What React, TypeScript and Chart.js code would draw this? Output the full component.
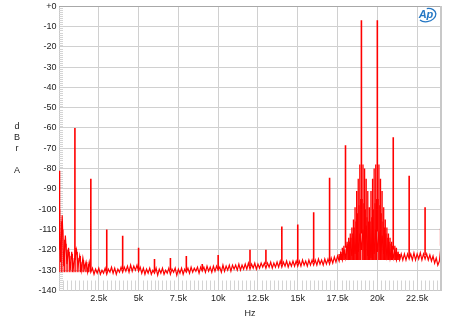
import { useEffect, useRef } from 'react';
import { Chart, registerables } from 'chart.js';

Chart.register(...registerables);

// ---------- data ----------
const noiseStepHz = 100;
const noiseDb = [
  -97, -126, -103, -128, -113, -127, -119, -130, -121, -129,
  -124, -120, -128, -123, -130, -124, -129, -126, -131, -126,
  -131, -129, -132, -129.5, -131.5, -129, -132, -130, -131.5, -129,
  -132, -129.5, -131, -128.5, -131.5, -129, -132, -129.5, -131, -128.5,
  -131, -128.5, -130.5, -128, -131, -127.5, -130.5, -128, -130, -127.5,
  -130.5, -128.5, -131.5, -129, -132, -129.5, -131.5, -129, -132, -130,
  -131.5, -129, -132.5, -129.5, -131.5, -129, -132, -130, -131.5, -129,
  -132, -129.5, -131, -129, -132.5, -129.5, -131.5, -129, -132, -129.5,
  -131, -129, -131.5, -128.5, -131, -129, -130.5, -128.5, -131.5, -128.5,
  -130.5, -128.5, -131, -128, -130.5, -128.5, -131, -128, -130.5, -128,
  -130, -128.5, -131, -127.5, -130.5, -128, -130, -127.5, -130.5, -127.5,
  -129.5, -127.5, -130, -127, -130, -127.5, -129.5, -127, -129.5, -126.5,
  -129.5, -127, -129, -126.5, -129.5, -127, -129, -126.5, -128.5, -126.5,
  -129, -126.5, -128.5, -126, -129, -126.5, -128.5, -126, -128.5, -125.5,
  -128.5, -126, -128, -125.5, -128.5, -126, -128, -125.5, -128, -125.5,
  -128, -125.5, -128, -125, -127.5, -125.5, -128, -125, -127.5, -125,
  -127.5, -125, -127.5, -124.5, -127, -125, -127.5, -124.5, -127, -124.5,
  -127, -124, -126.5, -123.5, -126, -123, -125.5, -121.5, -125, -120,
  -124, -118, -123, -116, -123, -113, -122, -111, -121, -112,
  -120, -110, -122, -108, -123, -107, -124, -108, -122, -110,
  -121, -111, -122, -113, -122, -115, -123, -117, -124, -119,
  -124, -120, -125, -121.5, -125, -122, -125, -122, -125, -122,
  -124.5, -122, -125, -121.5, -125, -122, -124.5, -121.5, -125, -122,
  -124.5, -122, -125, -122.5, -125.5, -123, -126.5, -124, -127.5, -125.5,
  -118,
];

// discrete tones: IMD products and harmonics
const spikeHz = [30, 1000, 2000, 3000, 4000, 5000, 6000, 7000, 8000, 9000, 10000, 12000, 13000, 14000, 15000, 16000, 17000, 18000, 19000, 20000, 21000, 22000, 23000, 23980];
const spikeTopDb = [-81, -60, -85, -110, -113, -119, -124.5, -124, -123, -127, -122.5, -120, -120, -108.5, -107.5, -101.5, -84.5, -68.5, -7, -7, -64.5, -83.5, -99, -109.5];
const spikeBaseDb = [-120, -125, -130, -130.5, -129.5, -129.5, -130.5, -130, -130, -129.5, -129.5, -128, -127, -127, -126.5, -126, -125.5, -119, -112, -111, -120, -123.5, -122.5, -118];

// low-frequency spurs below 2 kHz
const lowSpurHz = [50, 150, 250, 350, 450, 550, 650, 750, 850, 950, 1050, 1150, 1250, 1350, 1450, 1550, 1650, 1750, 1850, 1950];
const lowSpurDb = [-100, -106, -110, -115, -117, -120, -121, -123, -122, -124, -119, -121, -124, -123, -126, -125, -127, -126, -127, -128];
const lowSpurBaseDb = -131;

// sidebands around the 19 kHz / 20 kHz tones
const skirtHz = [17600, 17700, 17800, 17900, 18100, 18200, 18300, 18400, 18500, 18600, 18700, 18800, 18900, 19100, 19200, 19300, 19400, 19500, 19600, 19700, 19800, 19900, 20100, 20200, 20300, 20400, 20500, 20600, 20700, 20800, 20900, 21100, 21200, 21300, 21400];
const skirtTopDb = [-122, -121, -119, -118, -116, -114, -112, -109, -105, -99, -91, -85, -78, -78, -80, -85, -91, -99, -91, -85, -80, -78, -78, -85, -91, -99, -105, -109, -112, -114, -116, -118, -119, -121, -122];
const skirtMidHz = [17650, 17750, 17850, 17950, 18050, 18150, 18250, 18350, 18450, 18550, 18650, 18750, 18850, 18950, 19050, 19150, 19250, 19350, 19450, 19550, 19650, 19750, 19850, 19950, 20050, 20150, 20250, 20350, 20450, 20550, 20650, 20750, 20850, 20950, 21050, 21150, 21250, 21350];
const skirtMidDb = [-123, -122, -121, -120, -118, -117, -116, -114, -112, -109, -106, -102, -98, -95, -95, -97, -100, -104, -106, -106, -104, -100, -97, -95, -95, -98, -102, -106, -109, -112, -114, -116, -117, -118, -120, -121, -122, -123];
const skirtBaseDb = -125;

const xTickValues = [0, 2500, 5000, 7500, 10000, 12500, 15000, 17500, 20000, 22500];
const xTickLabels = ['', '2.5k', '5k', '7.5k', '10k', '12.5k', '15k', '17.5k', '20k', '22.5k'];
const yTitleLines = ['d', 'B', 'r', '', 'A'];

// ---------- helpers ----------
function segments(xs: number[], tops: number[], bases: number[] | number) {
  const out: { x: number; y: number | null }[] = [];
  xs.forEach((x, i) => {
    const b = Array.isArray(bases) ? bases[i] : bases;
    out.push({ x, y: b }, { x, y: tops[i] }, { x, y: null });
  });
  return out;
}

const FONT = '"Liberation Sans", Arial, sans-serif';

const decorPlugin = {
  id: 'decor',
  beforeDatasetsDraw(chart: any) {
    const { ctx, chartArea: a, scales } = chart;
    ctx.save();
    ctx.strokeStyle = '#d4d4d4';
    ctx.lineWidth = 1;
    ctx.beginPath();
    for (let d = -139; d < 0; d++) {
      if (d % 10 === 0) continue;
      const y = Math.round(scales.y.getPixelForValue(d)) + 0.5;
      ctx.moveTo(a.left, y);
      ctx.lineTo(a.left + 4, y);
    }
    for (let f = 250; f < 24000; f += 250) {
      if (f % 2500 === 0) continue;
      const x = Math.round(scales.x.getPixelForValue(f)) + 0.5;
      ctx.moveTo(x, a.bottom);
      ctx.lineTo(x, a.bottom - 10);
    }
    ctx.stroke();
    ctx.restore();
  },
  afterDraw(chart: any) {
    const { ctx, chartArea: a } = chart;
    ctx.save();
    ctx.strokeStyle = '#a8a8a8';
    ctx.lineWidth = 1;
    ctx.beginPath();
    ctx.moveTo(a.left, Math.round(a.top) + 0.5);
    ctx.lineTo(a.right, Math.round(a.top) + 0.5);
    ctx.stroke();
    ctx.strokeStyle = '#c8c8c8';
    ctx.lineWidth = 2;
    ctx.beginPath();
    ctx.moveTo(a.right, a.top);
    ctx.lineTo(a.right, a.bottom);
    ctx.stroke();
    // y title
    ctx.fillStyle = '#222';
    ctx.font = `9px ${FONT}`;
    ctx.textAlign = 'center';
    ctx.textBaseline = 'middle';
    const cy = (a.top + a.bottom) / 2;
    const lh = 11;
    yTitleLines.forEach((t, i) => {
      ctx.fillText(t, 17, cy + (i - (yTitleLines.length - 1) / 2) * lh);
    });
    // logo
    const lx = a.right - 14;
    const ly = a.top + 9;
    ctx.fillStyle = '#2477c4';
    ctx.font = `italic bold 11px ${FONT}`;
    ctx.fillText('Ap', lx - 1, ly);
    ctx.strokeStyle = '#2477c4';
    ctx.lineWidth = 1.3;
    ctx.beginPath();
    ctx.ellipse(lx, ly, 9, 6.5, -0.25, -Math.PI * 0.45, Math.PI * 0.85);
    ctx.stroke();
    ctx.restore();
  },
};

export default function App() {
  const ref = useRef<HTMLCanvasElement | null>(null);
  useEffect(() => {
    document.body.style.margin = '0';
    const canvas = ref.current;
    if (!canvas) return;
    const red = '#ff0000';
    const chart = new Chart(canvas, {
      type: 'line',
      data: {
        datasets: [
          {
            data: segments(skirtMidHz, skirtMidDb, skirtBaseDb),
            borderColor: red,
            borderWidth: 1.1,
            pointRadius: 0,
            spanGaps: false,
          },
          {
            data: segments(skirtHz, skirtTopDb, skirtBaseDb),
            borderColor: red,
            borderWidth: 1.3,
            pointRadius: 0,
            spanGaps: false,
          },
          {
            data: segments(lowSpurHz, lowSpurDb, lowSpurBaseDb),
            borderColor: red,
            borderWidth: 1,
            pointRadius: 0,
            spanGaps: false,
          },
          {
            data: noiseDb.map((v, i) => ({ x: i * noiseStepHz, y: v })),
            borderColor: red,
            borderWidth: 1.2,
            pointRadius: 0,
          },
          {
            data: segments(spikeHz, spikeTopDb, spikeBaseDb),
            borderColor: red,
            borderWidth: 1.6,
            pointRadius: 0,
            spanGaps: false,
          },
        ],
      } as any,
      options: {
        responsive: false,
        devicePixelRatio: 1,
        animation: false,
        events: [],
        layout: { padding: { top: 6, right: 9, bottom: 0, left: 0 } },
        plugins: { legend: { display: false }, tooltip: { enabled: false }, title: { display: false } },
        elements: { line: { tension: 0 } },
        scales: {
          x: {
            type: 'linear',
            position: 'bottom',
            min: 0,
            max: 24000,
            afterBuildTicks: (s: any) => {
              s.ticks = xTickValues.map((v) => ({ value: v }));
            },
            afterFit: (s: any) => { s.height = 33.5; },
            ticks: {
              autoSkip: false,
              maxRotation: 0,
              padding: 3,
              color: '#222',
              font: { family: FONT, size: 9 },
              callback: (_v: any, i: number) => xTickLabels[i] ?? '',
            },
            grid: { color: '#d0d0d0', drawTicks: false },
            border: { color: '#c8c8c8' },
            title: { display: true, text: 'Hz', color: '#222', font: { family: FONT, size: 9 }, padding: { top: 2, bottom: 5 } },
          },
          y: {
            type: 'linear',
            min: -140,
            max: 0,
            afterFit: (s: any) => { s.width = 59; },
            ticks: {
              stepSize: 10,
              padding: 2.5,
              color: '#222',
              font: { family: FONT, size: 9, lineHeight: 0.8 },
              callback: (v: any) => (Number(v) === 0 ? '+0' : String(v)),
            },
            grid: { color: '#d0d0d0', drawTicks: false },
            border: { color: '#c8c8c8' },
          },
        },
      } as any,
      plugins: [decorPlugin],
    });
    return () => chart.destroy();
  }, []);
  return (
    <div style={{ width: 450, height: 324 }}>
      <canvas ref={ref} width={450} height={324} style={{ display: 'block' }} />
    </div>
  );
}
